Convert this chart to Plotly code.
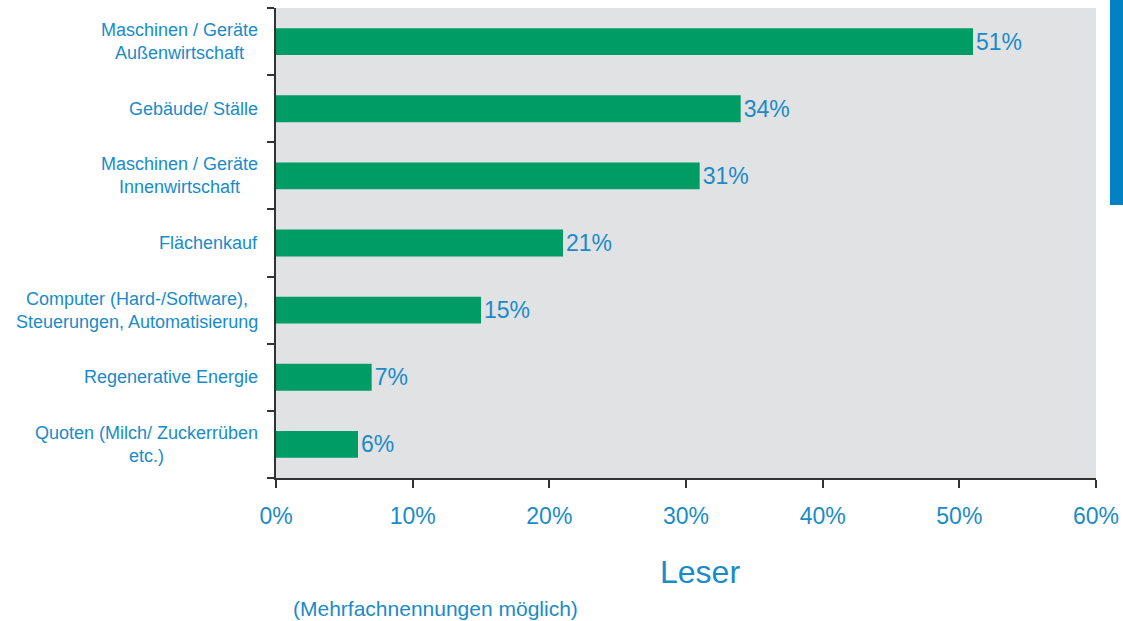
import plotly.graph_objects as go

categories = [
    "Maschinen / Geräte<br>Außenwirtschaft",
    "Gebäude/ Ställe",
    "Maschinen / Geräte<br>Innenwirtschaft",
    "Flächenkauf",
    "Computer (Hard-/Software),<br>Steuerungen, Automatisierung",
    "Regenerative Energie",
    "Quoten (Milch/ Zuckerrüben<br>etc.)",
]
values = [51, 34, 31, 21, 15, 7, 6]
x_ticks = [0, 10, 20, 30, 40, 50, 60]
x_ticklabels = [f"{v}%" for v in x_ticks]

BLUE = "#1A8BC8"
GREEN = "#009C66"
FONT = "Liberation Sans, Arial, sans-serif"

fig = go.Figure()
fig.add_trace(go.Bar(
    x=values,
    y=categories,
    orientation="h",
    width=0.4,
    marker=dict(color=GREEN, line=dict(width=0)),
    text=[f"{v}%" for v in values],
    textposition="outside",
    textfont=dict(family=FONT, size=23, color=BLUE),
    cliponaxis=False,
))

for c in categories:
    fig.add_annotation(
        x=0, y=c, xref="paper", yref="y",
        text=c, showarrow=False, xanchor="right", yanchor="middle",
        align="center", xshift=-16,
        font=dict(family=FONT, size=18, color=BLUE),
    )

fig.add_annotation(
    x=0.517, y=-0.2, xref="paper", yref="paper", text="Leser",
    showarrow=False, xanchor="center", yanchor="middle",
    font=dict(family=FONT, size=32, color=BLUE),
)
fig.add_annotation(
    x=0.195, y=-0.2766, xref="paper", yref="paper",
    text="(Mehrfachnennungen möglich)",
    showarrow=False, xanchor="center", yanchor="middle",
    font=dict(family=FONT, size=21, color=BLUE),
)

# blue side marker at right edge
fig.add_shape(
    type="rect", xref="paper", yref="paper",
    x0=(1110 - 276) / 820, x1=(1124 - 276) / 820,
    y0=(478 - 205) / 470, y1=(478 + 8) / 470,
    fillcolor="#0082C3", line=dict(width=0), layer="above",
)

fig.update_layout(
    width=1123, height=621,
    margin=dict(l=276, r=27, t=8, b=143, autoexpand=False),
    paper_bgcolor="white",
    plot_bgcolor="#E1E2E4",
    showlegend=False,
    bargap=0.6,
)
fig.update_xaxes(
    range=[0, 60],
    tickvals=x_ticks, ticktext=x_ticklabels,
    tickfont=dict(family=FONT, size=23, color=BLUE),
    ticklabelstandoff=8,
    automargin=False,
    showgrid=False, zeroline=False,
    showline=True, linecolor="#333333", linewidth=2,
    ticks="outside", ticklen=8, tickwidth=2, tickcolor="#333333",
)
fig.update_yaxes(
    categoryorder="array", categoryarray=categories[::-1],
    showticklabels=False,
    automargin=False,
    showgrid=False, zeroline=False,
    showline=True, linecolor="#333333", linewidth=2,
    ticks="outside", ticklen=7, tickwidth=2, tickcolor="#333333",
    tickson="boundaries",
)

fig.write_html(
    "out.html",
    config={"displayModeBar": False},
    post_script="document.body.style.margin='0';document.body.style.overflow='hidden';",
)
